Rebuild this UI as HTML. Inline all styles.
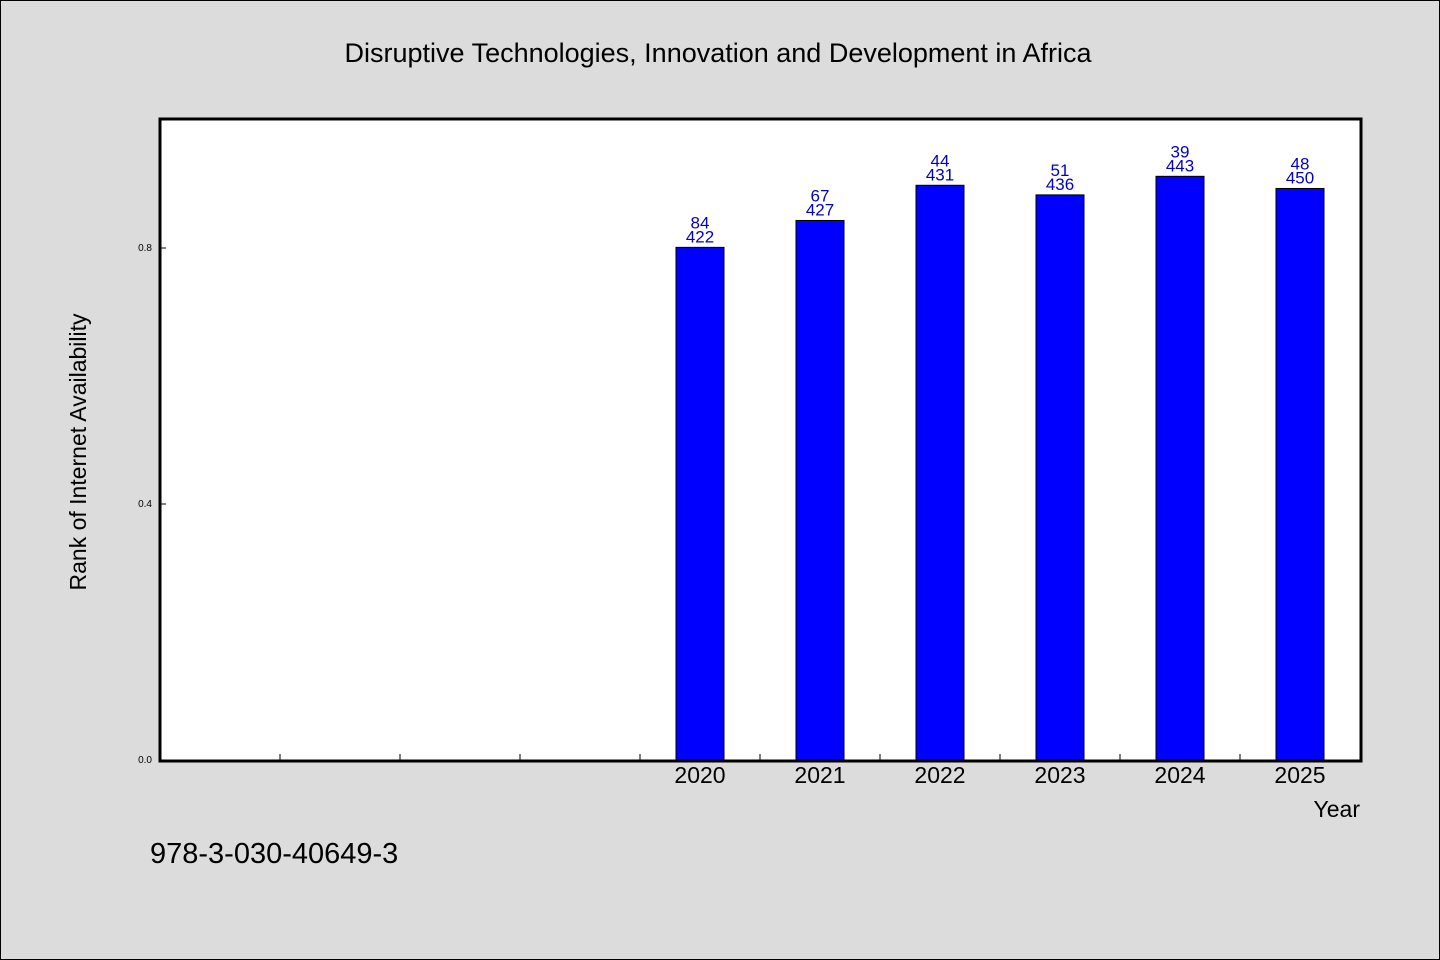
<!DOCTYPE html>
<html><head><meta charset="utf-8"><style>
html,body{margin:0;padding:0;background:#dcdcdc;}
svg{display:block;font-family:"WenQuanYi Zen Hei","Liberation Sans",sans-serif;}
</style></head><body>
<svg id="chart" width="1440" height="960">
<rect x="0.5" y="0.5" width="1439" height="959" fill="#dcdcdc" stroke="#000"/>
<text x="718" y="62" text-anchor="middle" font-size="27">Disruptive Technologies, Innovation and Development in Africa</text>
<rect x="160" y="119" width="1201" height="642" fill="#fff"/>
<g id="marks"></g>
<rect x="160" y="119" width="1201" height="642" fill="none" stroke="#000" stroke-width="3"/>
<text x="86" y="452" text-anchor="middle" font-size="23" transform="rotate(-90 86 452)">Rank of Internet Availability</text>
<text x="1360" y="817" text-anchor="end" font-size="23">Year</text>
<text x="150" y="863" font-size="29">978-3-030-40649-3</text>
</svg>
<script>
const categories = ["", "", "", "", "", "2020", "2021", "2022", "2023", "2024", "2025"];
const values = [null, null, null, null, null, 0.801, 0.843, 0.898, 0.883, 0.912, 0.893];
const ranks = [null, null, null, null, null, 84, 67, 44, 51, 39, 48];
const totals = [null, null, null, null, null, 422, 427, 431, 436, 443, 450];
const yTicks = [0.0, 0.4, 0.8];
const yTickLabels = ["0.0", "0.4", "0.8"];

const NS = "http://www.w3.org/2000/svg";
const g = document.getElementById("marks");
const x0 = 160, x1 = 1360, yBase = 760, yTop = 120;
const slot = (x1 - x0) / 10;
const yScale = v => yBase - v * (yBase - yTop);
const xCenter = i => x0 + slot * (i - 0.5);
function mk(tag, attrs) { const e = document.createElementNS(NS, tag); for (const k in attrs) e.setAttribute(k, attrs[k]); g.appendChild(e); return e; }

yTicks.forEach((t, i) => {
  const y = yScale(t);
  const l = mk("line", {x1: x0, x2: x0 + 6, y1: y, y2: y, stroke: "#000"});
  
  
  const tx = mk("text", {x: x0 - 8, y: y + 3, "text-anchor": "end", "font-size": 10});
  tx.textContent = yTickLabels[i];
  
  
});
for (let i = 1; i < 10; i++) {
  const x = x0 + slot * i;
  const l = mk("line", {x1: x, x2: x, y1: yBase, y2: yBase - 6, stroke: "#000"});
  
  
}
categories.forEach((c, i) => {
  if (values[i] == null) return;
  const cx = xCenter(i), y = yScale(values[i]);
  const r = mk("rect", {x: cx - 24, y: y, width: 48, height: yBase - y, fill: "#0000ff", stroke: "#000", "stroke-width": 1});
  
  
  const t1 = mk("text", {x: cx, y: y - 19, "text-anchor": "middle", "font-size": 17, fill: "#0000cc"});
  t1.textContent = ranks[i];
  
  
  const t2 = mk("text", {x: cx, y: y - 5, "text-anchor": "middle", "font-size": 17, fill: "#0000cc"});
  t2.textContent = totals[i];
  
  
  const xl = mk("text", {x: cx, y: 783, "text-anchor": "middle", "font-size": 23});
  xl.textContent = c;
  
  
});
</script>
</body></html>
